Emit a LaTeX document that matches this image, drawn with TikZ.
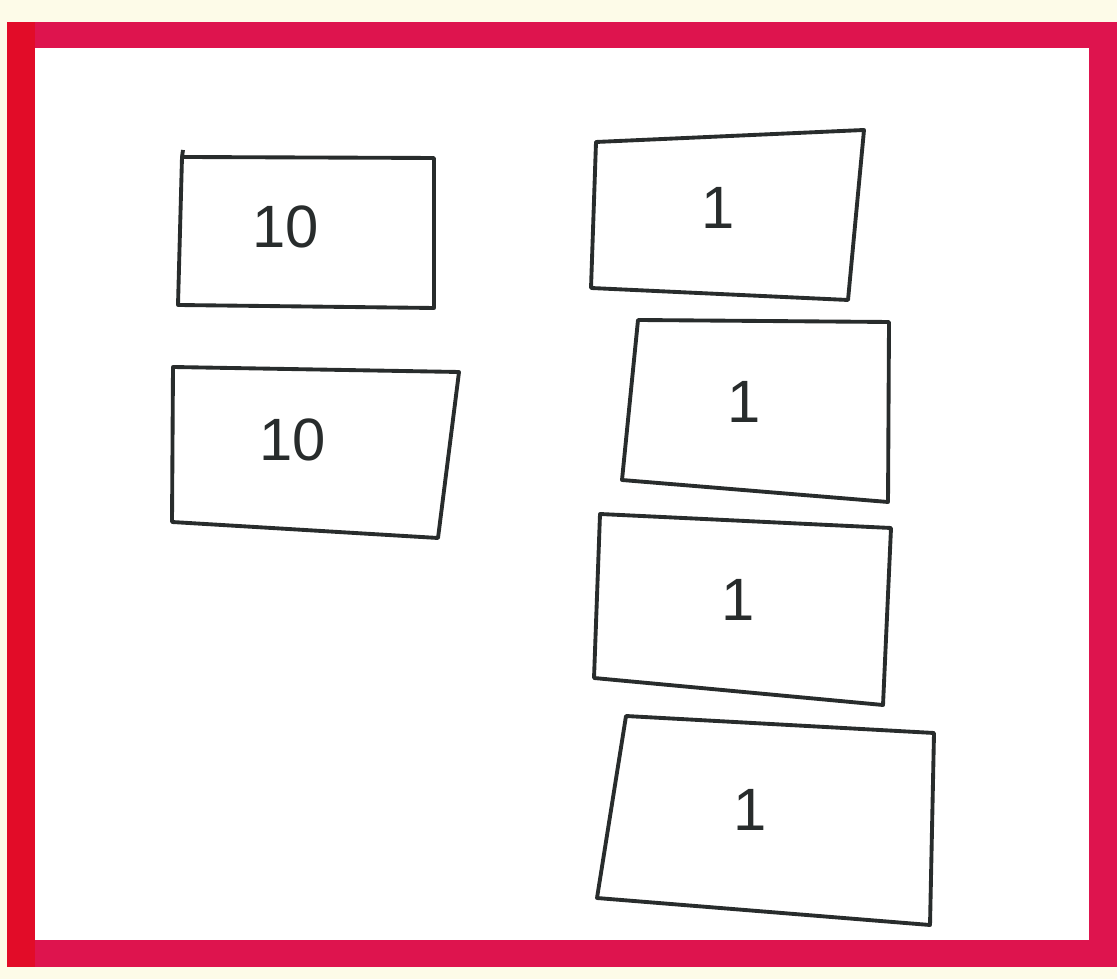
\documentclass[tikz,border=0pt]{standalone}
\usepackage{fontspec}
\setmainfont{Liberation Sans}
\usetikzlibrary{positioning}
\definecolor{paper}{RGB}{253,251,232}
\definecolor{tape}{RGB}{222,20,78}
\definecolor{tapered}{RGB}{226,12,40}
\definecolor{pen}{RGB}{40,44,44}
\tikzset{
  card/.style={
    draw=pen, line width=1.1pt, line join=round, fill=white,
  },
  tally/.style={
    font=\fontsize{17}{20}\selectfont, text=pen, inner sep=0pt,
  },
}

\begin{document}
\begin{tikzpicture}[x=0.1mm, y=-0.1mm]

  % paper and the red frame
  \useasboundingbox (0,0) rectangle (1117,979);
  \fill[paper] (0,0) rectangle (1117,979);
  \fill[tape] (7,22) rectangle (1117,967);
  \fill[tapered] (7,22) rectangle (35,967);
  \fill[white] (35,48) rectangle (1089,940);

  % left column: tens
  \draw[card] (182,157) -- (434,158) -- (434,308) -- (178,305) -- cycle;
  \draw[card] (183,150) -- (182,157);
  \node[tally] (ten1) at (286,227) {10};

  \draw[card] (173,367) -- (459,372) -- (438,538) -- (172,522) -- cycle;
  \node[tally] (ten2) at (293,440) {10};

  % right column: ones
  \draw[card] (596,142) -- (864,130) -- (848,300) -- (591,288) -- cycle;
  \node[tally] (one1) at (718,208) {1};

  \draw[card] (638,320) -- (889,322) -- (888,502) -- (622,480) -- cycle;
  \node[tally] (one2) at (744,402) {1};

  \draw[card] (600,514) -- (891,528) -- (883,705) -- (594,678) -- cycle;
  \node[tally] (one3) at (738,600) {1};

  \draw[card] (626,716) -- (934,733) -- (930,925) -- (597,898) -- cycle;
  \node[tally] (one4) at (750,810) {1};

\end{tikzpicture}
\end{document}
